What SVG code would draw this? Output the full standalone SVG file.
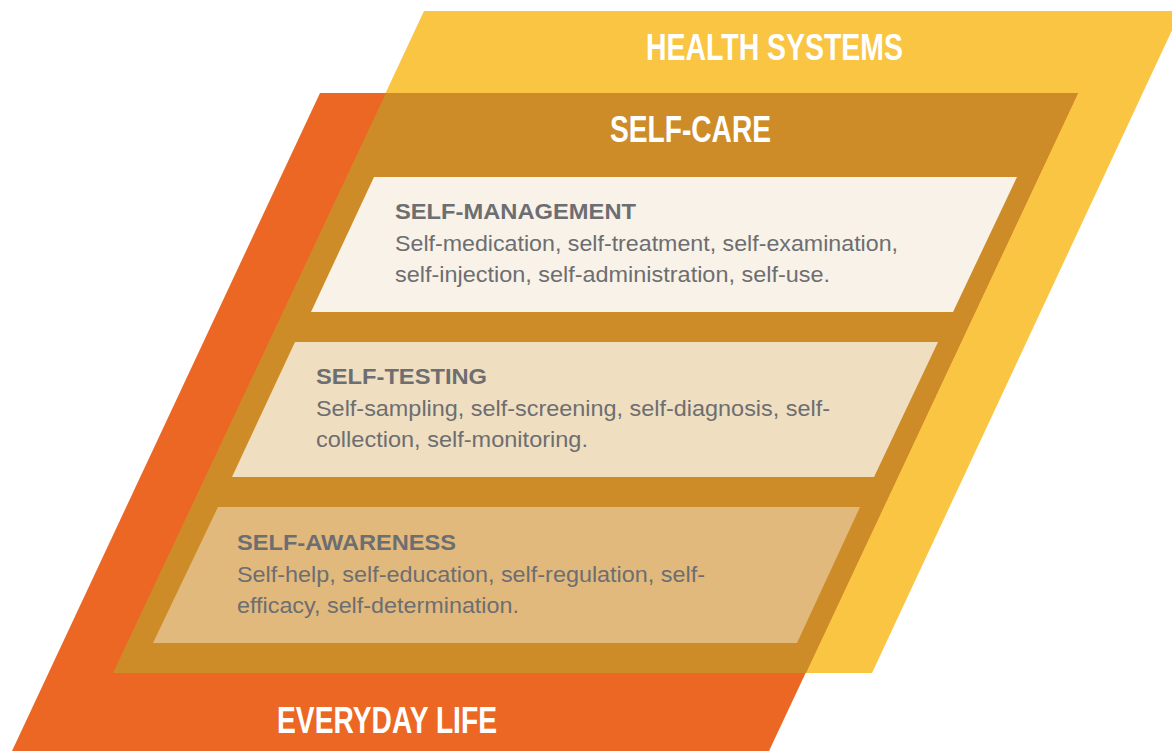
<svg xmlns="http://www.w3.org/2000/svg" width="1172" height="751" viewBox="0 0 1172 751">
<style>
.title{font-family:"Liberation Sans",Arial,sans-serif;font-weight:bold;fill:#ffffff;font-size:36px}
.head{font-family:"Liberation Sans",Arial,sans-serif;font-weight:bold;fill:#6d6e71;font-size:22px}
.body{font-family:"Liberation Sans",Arial,sans-serif;fill:#6d6e71;font-size:22px}
</style>
<rect width="1172" height="751" fill="#ffffff"/>
<g id="health-systems">
<polygon points="424,11 1181,11 872,673 114,673" fill="#f9c543"/>
<text class="title" x="646" y="60" textLength="257" lengthAdjust="spacingAndGlyphs">HEALTH SYSTEMS</text>
</g>
<g id="everyday-life">
<polygon points="320,93 1078,93 769,751 12,751" fill="#ec6723"/>
<text class="title" x="277" y="733" textLength="220" lengthAdjust="spacingAndGlyphs">EVERYDAY LIFE</text>
</g>
<g id="self-care">
<polygon points="386,93 1078,93 806,673 113,673" fill="#ce8c29"/>
<text class="title" x="610" y="142" textLength="161" lengthAdjust="spacingAndGlyphs">SELF-CARE</text>
</g>
<g id="self-management">
<polygon points="374,177 1017,177 953,312 311,312" fill="#f9f2e8"/>
<text class="head" x="395" y="219" textLength="241" lengthAdjust="spacingAndGlyphs">SELF-MANAGEMENT</text>
<text class="body" x="395" y="251" textLength="503" lengthAdjust="spacingAndGlyphs">Self-medication, self-treatment, self-examination,</text>
<text class="body" x="395" y="282" textLength="435" lengthAdjust="spacingAndGlyphs">self-injection, self-administration, self-use.</text>
</g>
<g id="self-testing">
<polygon points="295,342 938,342 874,477 232,477" fill="#f0dec0"/>
<text class="head" x="316" y="384" textLength="171" lengthAdjust="spacingAndGlyphs">SELF-TESTING</text>
<text class="body" x="316" y="416" textLength="514" lengthAdjust="spacingAndGlyphs">Self-sampling, self-screening, self-diagnosis, self-</text>
<text class="body" x="316" y="447" textLength="272" lengthAdjust="spacingAndGlyphs">collection, self-monitoring.</text>
</g>
<g id="self-awareness">
<polygon points="218,507 860,507 797,643 153,643" fill="#e2b97c"/>
<text class="head" x="237" y="550" textLength="219" lengthAdjust="spacingAndGlyphs">SELF-AWARENESS</text>
<text class="body" x="237" y="582" textLength="468" lengthAdjust="spacingAndGlyphs">Self-help, self-education, self-regulation, self-</text>
<text class="body" x="237" y="613" textLength="282" lengthAdjust="spacingAndGlyphs">efficacy, self-determination.</text>
</g>
<g id="connectors"></g>
</svg>
